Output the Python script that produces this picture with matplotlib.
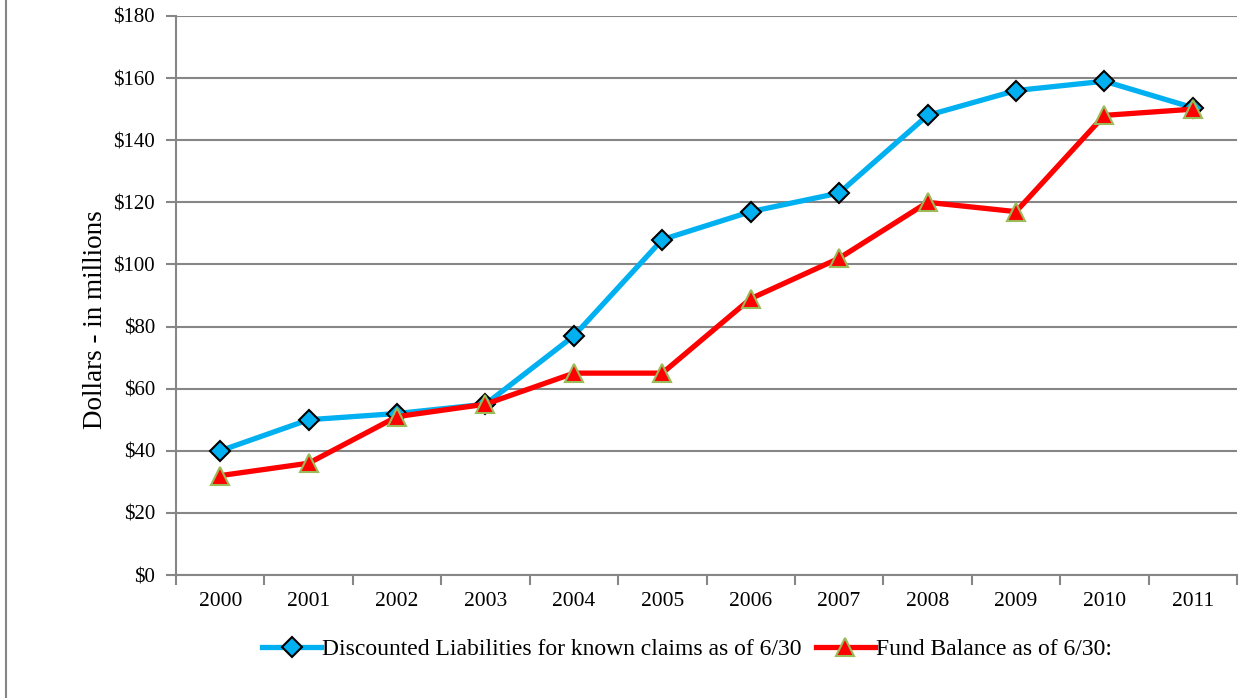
import matplotlib.pyplot as plt
import numpy as np

years = ['2000', '2001', '2002', '2003', '2004', '2005', '2006', '2007', '2008', '2009', '2010', '2011']
liabilities = [40, 50, 52, 55, 77, 108, 117, 123, 148, 156, 159, 150.5]
fund_balance = [32, 36, 51, 55, 65, 65, 89, 102, 120, 117, 148, 150]
yticks = [0, 20, 40, 60, 80, 100, 120, 140, 160, 180]

plt.rcParams['font.family'] = ['Liberation Serif', 'DejaVu Serif']
gray = '#868686'

fig = plt.figure(figsize=(12.51, 6.98), dpi=100)
ax = fig.add_axes([176 / 1251, 1 - 575 / 698, (1237 - 176) / 1251, (575 - 16) / 698])

x = np.arange(len(years))
ax.plot(x, liabilities, color='#00B0F0', lw=3.8, marker='D', ms=10,
        mfc='#00B0F0', mec='black', mew=1.5,
        label='Discounted Liabilities for known claims as of 6/30')
ax.plot(x, fund_balance, color='#FF0000', lw=3.8, marker='^', ms=13,
        mfc='#FF0000', mec='#9BBB59', mew=1.5,
        label='Fund Balance as of 6/30:')

ax.set_xlim(-0.5, len(years) - 0.5)
ax.set_ylim(0, 180)
ax.set_yticks(yticks)
ax.set_yticklabels(['$' + str(v) for v in yticks], fontsize=15)
ax.set_xticks(x)
ax.set_xticklabels(years, fontsize=15.5)
ax.tick_params(axis='x', length=0, pad=12)
ax.set_xticks(np.arange(-0.5, len(years), 1), minor=True)
ax.tick_params(axis='x', which='minor', length=7, color=gray, width=1.5, direction='out')
ax.tick_params(axis='y', length=7, color=gray, width=1.5, pad=8)
ax.grid(axis='y', color=gray, lw=1.5)
ax.set_axisbelow(True)
for s in ['top', 'right']:
    ax.spines[s].set_visible(False)
for s in ['left', 'bottom']:
    ax.spines[s].set_color(gray)
    ax.spines[s].set_linewidth(1.5)

ax.set_ylabel('Dollars - in millions', fontsize=19.5)
ax.yaxis.set_label_coords(-0.064, 0.456)

fig.legend(loc='center', bbox_to_anchor=(687 / 1251, 1 - 649 / 698), ncol=2,
           frameon=False, fontsize=17, handlelength=2.5, columnspacing=0.6,
           handletextpad=0.05)

fig.add_artist(plt.Line2D([6 / 1251, 6 / 1251], [0, 1], color=gray, lw=1.5))

fig.savefig('out.png', dpi=100)
